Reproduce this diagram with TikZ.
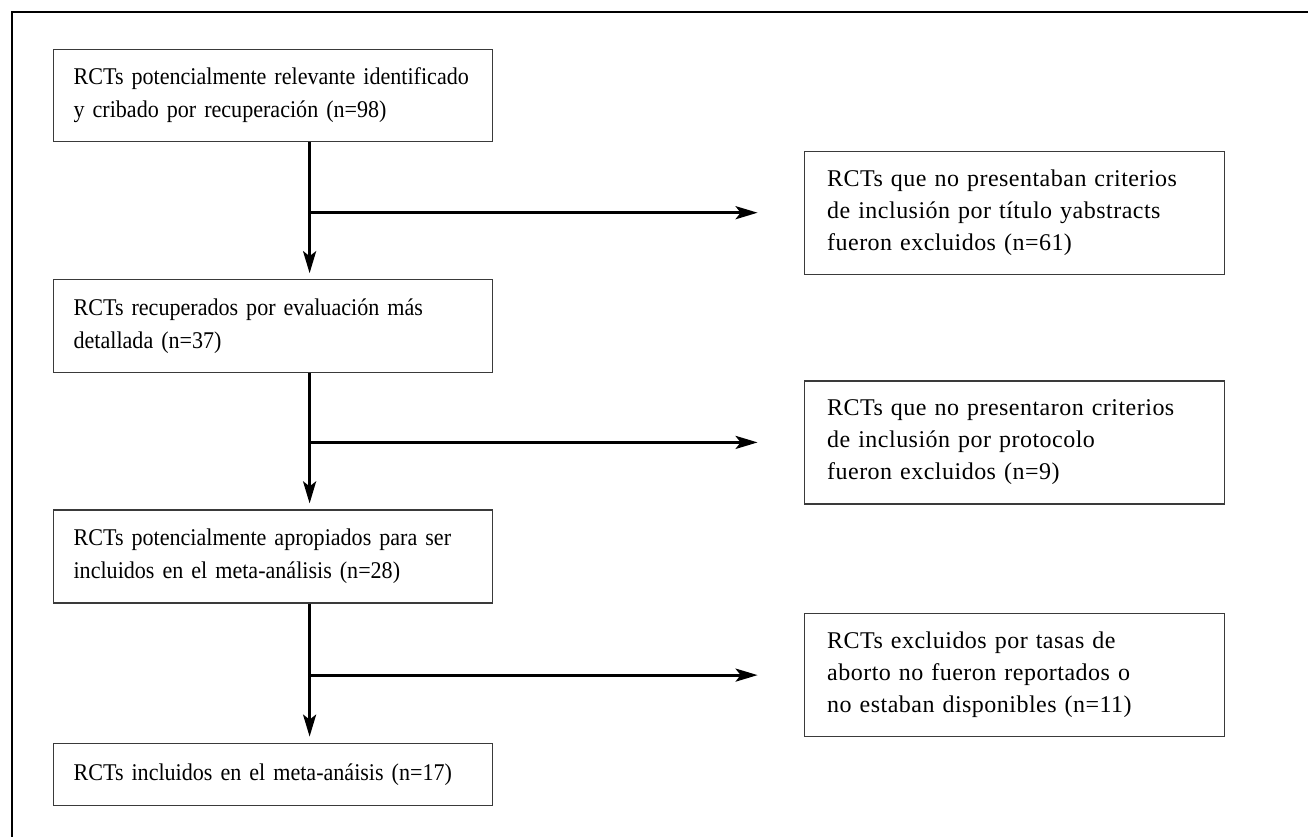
\documentclass[tikz,border=0pt]{standalone}
\usepackage{fontspec}
\setmainfont{Liberation Serif}
\newfontfamily\stagefont{Liberation Serif}[FakeStretch=0.92]
\newfontfamily\dropfont{Liberation Serif}[LetterSpace=2.0]
\usepackage{xcolor}
\usepackage{tikz}
\usetikzlibrary{arrows.meta,positioning,calc}
\definecolor{Edge}{HTML}{3A3A3A}
\tikzset{
  stage/.style={draw=Edge,fill=white,line width=.6pt,text width=199.5pt,inner xsep=10pt,minimum height=46.5pt,align=left,font=\stagefont\fontsize{12}{16.5}\selectfont},
  drop/.style={draw=Edge,fill=white,line width=.6pt,text width=187pt,inner xsep=11.5pt,minimum height=61.5pt,align=left,font=\dropfont\fontsize{12}{16}\selectfont},
  flow/.style={-{Stealth[length=11pt,width=6.5pt,inset=2.5pt]},line width=1.5pt},
  frame/.style={draw=black,line width=.8pt}
}
\begin{document}
\begin{tikzpicture}[x=.5pt,y=-.5pt]
  \useasboundingbox (0,0) rectangle (1308,837);
  \draw[frame] (1308,12) -- (12,12) -- (12,837);
  % main column
  \node[stage,anchor=north west,minimum height=46pt] (b1) at (53,49) {RCTs potencialmente relevante identificado\\y cribado por recuperación (n=98)};
  \node[stage,below=68.5pt of b1] (b2) {RCTs recuperados por evaluación más\\detallada (n=37)};
  \node[stage,below=68pt of b2] (b3) {RCTs potencialmente apropiados para ser\\incluidos en el meta-análisis (n=28)};
  \node[stage,below=69.5pt of b3,minimum height=31pt] (b4) {RCTs incluidos en el meta-anáisis (n=17)};
  % exclusions
  \coordinate (j1) at ($(b1.south)!.5!(b2.north)+(36.5,2)$);
  \coordinate (j2) at ($(b2.south)!.5!(b3.north)+(36.5,1)$);
  \coordinate (j3) at ($(b3.south)!.5!(b4.north)+(36.5,2)$);
  \node[drop,anchor=west] (r1) at ($(j1)+(494,0)$) {RCTs que no presentaban criterios\\de inclusión por título yabstracts\\fueron excluidos (n=61)};
  \node[drop,anchor=west] (r2) at ($(j2)+(494,0)$) {RCTs que no presentaron criterios\\de inclusión por protocolo\\fueron excluidos (n=9)};
  \node[drop,anchor=west] (r3) at ($(j3)+(494,0)$) {RCTs excluidos por tasas de\\aborto no fueron reportados o\\no estaban disponibles (n=11)};
  \draw[flow,shorten >=3pt] (b1.south -| j1) -- (b2.north -| j1);
  \draw[flow,shorten >=3pt] (b2.south -| j2) -- (b3.north -| j2);
  \draw[flow,shorten >=3pt] (b3.south -| j3) -- (b4.north -| j3);
  \draw[flow,shorten >=23pt] (j1) -- (r1.west);
  \draw[flow,shorten >=23pt] (j2) -- (r2.west);
  \draw[flow,shorten >=23pt] (j3) -- (r3.west);
\end{tikzpicture}
\end{document}
